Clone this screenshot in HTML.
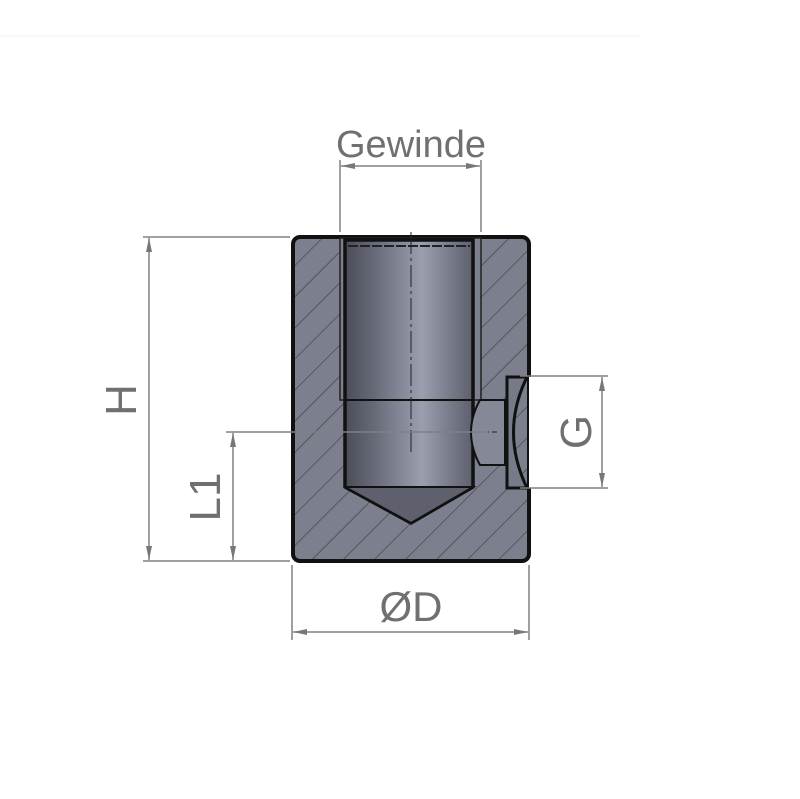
<!DOCTYPE html>
<html><head><style>
html,body{margin:0;padding:0;background:#fff;width:800px;height:799px;overflow:hidden}
svg{display:block}
text{font-family:"Liberation Sans",sans-serif;fill:#707070}
</style></head><body>
<svg width="800" height="799" viewBox="0 0 800 799">
<defs>
<pattern id="h" patternUnits="userSpaceOnUse" width="22" height="22" patternTransform="rotate(45)">
<rect width="22" height="22" fill="#7c7f8e"/>
<line x1="0" y1="0" x2="0" y2="22" stroke="#3a3c44" stroke-width="1.2"/>
</pattern>
<linearGradient id="g" x1="0" x2="1">
<stop offset="0" stop-color="#4a4c58"/><stop offset="0.25" stop-color="#6a6d7c"/>
<stop offset="0.6" stop-color="#9a9eae"/><stop offset="1" stop-color="#5c5f6c"/>
</linearGradient>
<marker id="a" viewBox="0 0 14 8" refX="14" refY="4" markerWidth="14" markerHeight="8" orient="auto-start-reverse" markerUnits="userSpaceOnUse">
<path d="M0,1 L14,4 L0,7 Z" fill="#777"/>
</marker>
</defs>
<line x1="0" y1="36" x2="640" y2="36" stroke="#f2f2f2"/>
<rect x="293" y="237" width="236" height="324" rx="7" fill="url(#h)" stroke="#111" stroke-width="4"/>
<rect x="340" y="238" width="141" height="162" fill="#7c7f8e" stroke="#222" stroke-width="1.5"/>
<path d="M345,240 L473,240 L473,487 L411,523 L345,487 Z" fill="url(#g)" stroke="#111" stroke-width="3.5"/>
<path d="M345,487 L473,487 L411,523 Z" fill="#5e616d" stroke="#111" stroke-width="2"/>
<line x1="345" y1="400" x2="473" y2="400" stroke="#111" stroke-width="2"/>
<line x1="348" y1="246" x2="470" y2="246" stroke="#222" stroke-width="2" stroke-dasharray="10,2"/>
<path d="M480,400 L505,400 L505,465 L480,465 Q462,432 480,400 Z" fill="#858897" stroke="#111" stroke-width="2"/>
<path d="M507,377 L527,377 Q500,432 527,488 L507,488 Z" fill="#777a89" stroke="#111" stroke-width="3"/>
<rect x="529" y="377" width="3" height="111" fill="#fff"/>
<line x1="411" y1="232" x2="411" y2="452" stroke="#222" stroke-width="1" stroke-dasharray="22,4,3,4"/>
<line x1="476" y1="432" x2="498" y2="432" stroke="#222" stroke-width="1" stroke-dasharray="5,3"/>
<g stroke="#808080" stroke-width="1.5" fill="none">
<line x1="340" y1="160" x2="340" y2="232"/>
<line x1="481" y1="160" x2="481" y2="232"/>
<line x1="341" y1="166" x2="480" y2="166" marker-start="url(#a)" marker-end="url(#a)"/>
<line x1="143" y1="237" x2="290" y2="237"/>
<line x1="143" y1="561" x2="290" y2="561"/>
<line x1="149" y1="238" x2="149" y2="560" marker-start="url(#a)" marker-end="url(#a)"/>
<line x1="226" y1="432" x2="488" y2="432"/>
<line x1="233" y1="433" x2="233" y2="560" marker-start="url(#a)" marker-end="url(#a)"/>
<line x1="520" y1="376" x2="608" y2="376"/>
<line x1="520" y1="488" x2="608" y2="488"/>
<line x1="602" y1="377" x2="602" y2="487" marker-start="url(#a)" marker-end="url(#a)"/>
<line x1="292" y1="565" x2="292" y2="640"/>
<line x1="529" y1="565" x2="529" y2="640"/>
<line x1="293" y1="632" x2="528" y2="632" marker-start="url(#a)" marker-end="url(#a)"/>
</g>
<text x="411" y="157" font-size="38" text-anchor="middle">Gewinde</text>
<text x="411" y="621" font-size="42" text-anchor="middle">ØD</text>
<text transform="translate(136,400) rotate(-90)" font-size="44" text-anchor="middle">H</text>
<text transform="translate(220,497) rotate(-90)" font-size="44" text-anchor="middle">L1</text>
<text transform="translate(591,432) rotate(-90)" font-size="44" text-anchor="middle">G</text>
</svg>
</body></html>
